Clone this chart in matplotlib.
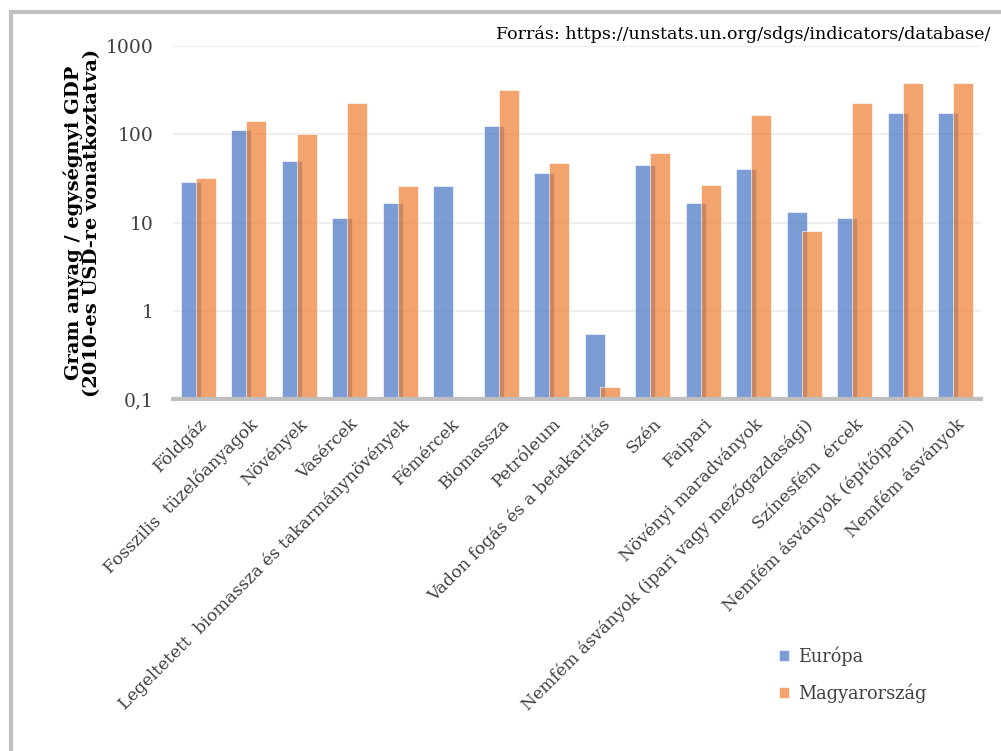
import matplotlib
matplotlib.use('Agg')
import matplotlib.pyplot as plt
from matplotlib.patches import Rectangle
from matplotlib.ticker import FixedLocator, FixedFormatter, NullLocator
import numpy as np

categories = ['Földgáz', 'Fosszilis  tüzelőanyagok', 'Növények', 'Vasércek',
              'Legeltetett  biomassza és takarmánynövények', 'Fémércek', 'Biomassza',
              'Petróleum', 'Vadon fogás és a betakarítás', 'Szén', 'Faipari',
              'Növényi maradványok', 'Nemfém ásványok (ipari vagy mezőgazdasági)',
              'Színesfém  ércek', 'Nemfém ásványok (építőipari)', 'Nemfém ásványok']
europa = [28.6, 112, 50, 11.2, 16.5, 25.9, 124, 36.7, 0.545, 45.2, 16.5, 40.7, 13.1, 11.2, 175, 175]
magyar = [31.7, 143, 101, 224, 25.9, np.nan, 317, 46.9, 0.136, 61.8, 26.8, 164, 7.95, 224, 378, 378]

plt.rcParams['font.family'] = ['DejaVu Serif']

fig = plt.figure(figsize=(10.01, 7.51), dpi=100)
# light gray frame around the chart
fig.patches.append(Rectangle((0.011, -0.05), 1.05, 1.034, transform=fig.transFigure,
                             fill=False, edgecolor='#BFBFBF', linewidth=3))

ax = fig.add_axes([0.1728, 0.4687, 0.807, 0.470])
x = np.arange(len(categories))
off = 0.1485
w = 0.396
ax.bar(x - off, europa, w, color='#4472C4', alpha=0.7, edgecolor='white', linewidth=0.6,
       label='Európa', zorder=3)
ax.bar(x + off, [v if not np.isnan(v) else 0 for v in magyar], w, color='#ED7D31', alpha=0.7,
       edgecolor='white', linewidth=0.6, label='Magyarország', zorder=3)

ax.set_yscale('log')
ax.set_ylim(0.1, 1000)
ax.set_xlim(-0.5, len(categories) - 0.5)
ax.yaxis.set_major_locator(FixedLocator([0.1, 1, 10, 100, 1000]))
ax.yaxis.set_major_formatter(FixedFormatter(['0,1', '1', '10', '100', '1000']))
ax.yaxis.set_minor_locator(NullLocator())
ax.grid(axis='y', color='#EEEEEE', linewidth=1.5, zorder=0)
for s in ['top', 'right', 'left']:
    ax.spines[s].set_visible(False)
ax.spines['bottom'].set_color('#BFBFBF')
ax.spines['bottom'].set_linewidth(3)
ax.spines['bottom'].set_zorder(4)
ax.tick_params(axis='both', length=0, colors='#404040')
ax.tick_params(axis='y', labelsize=13.5, pad=14)
ax.set_xticks(x)
ax.set_xticklabels(categories, rotation=45, ha='right', rotation_mode='anchor', fontsize=12.3)
ax.tick_params(axis='x', pad=12)

ax.set_ylabel('Gram anyag / egységnyi GDP\n(2010-es USD-re vonatkoztatva)', fontsize=14,
              fontweight='bold', color='#000000', labelpad=3, linespacing=1.05)

fig.text(0.989, 0.955, 'Forrás: https://unstats.un.org/sdgs/indicators/database/',
         ha='right', va='center', fontsize=12.6, color='#000000')

ax.legend(loc='upper left', bbox_to_anchor=(0.73, -0.655), frameon=False, fontsize=12.8,
          handlelength=0.6, handleheight=0.6, handletextpad=0.5, labelspacing=1.0,
          labelcolor='#404040')

fig.savefig('out.png', dpi=100)
